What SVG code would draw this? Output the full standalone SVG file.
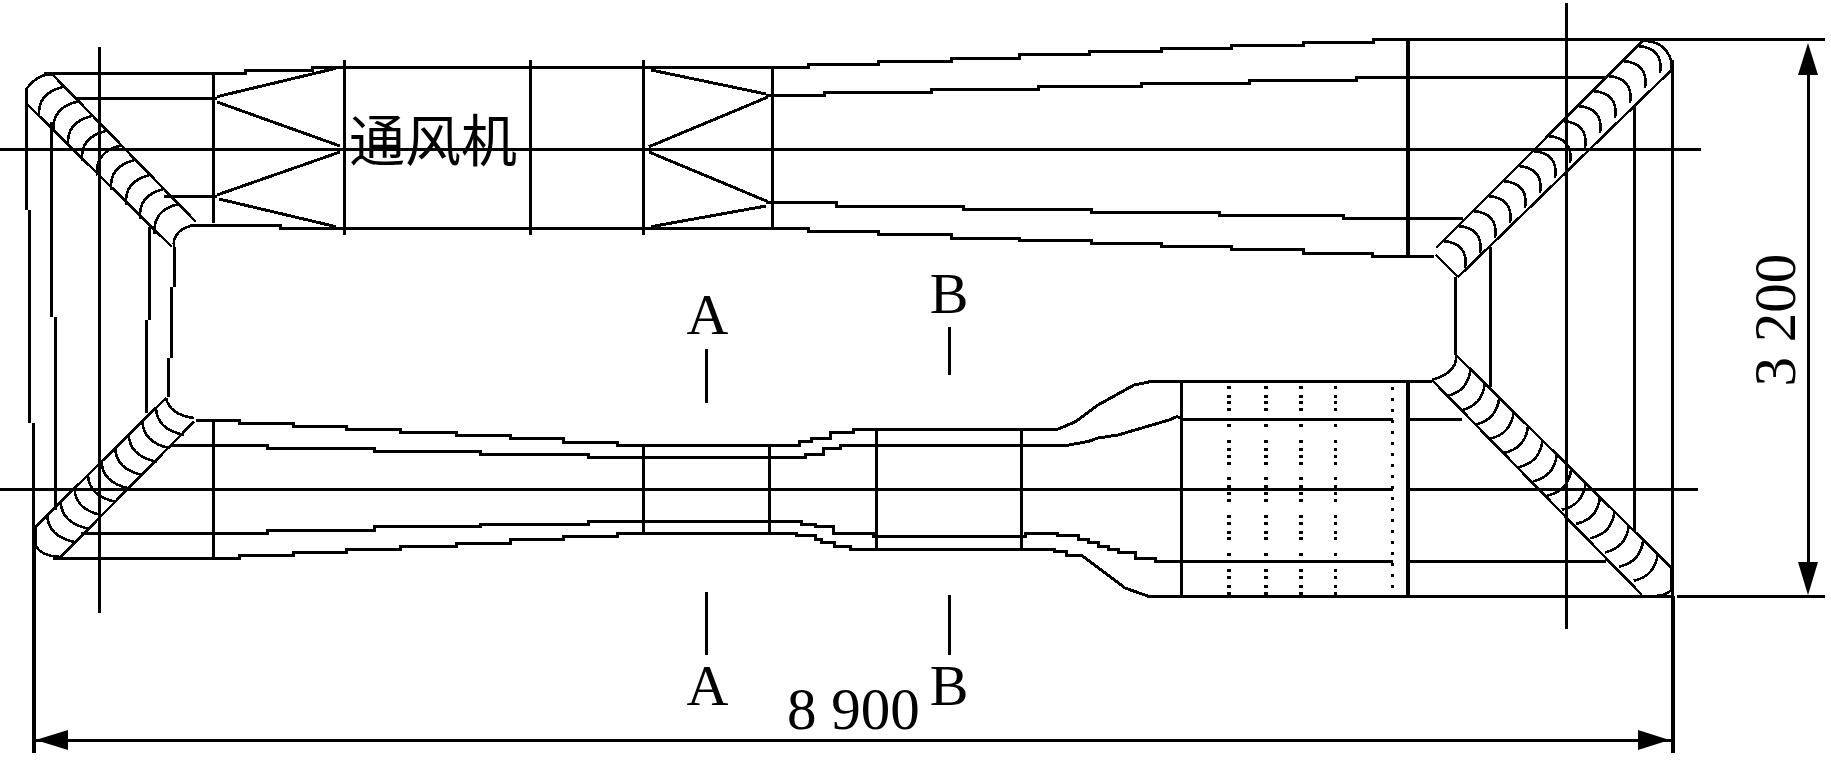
<svg xmlns="http://www.w3.org/2000/svg" width="1831" height="760" viewBox="0 0 1831 760">
<style>
.l{fill:none;stroke:#000;stroke-width:3;shape-rendering:crispEdges}
.k{stroke-width:4}
.v{fill:none;stroke:#000;stroke-width:2.6;shape-rendering:crispEdges}
.d{fill:none;stroke:#000;stroke-width:3.5;shape-rendering:crispEdges;stroke-dasharray:3,6,3,3,3,4,3,13,3,13,3,5,3,4,3,4,3,12,3,5,3,4,3,4,3,13,3,4,3,6,3,3,3,13,3,13,3,4,3,6,3,4}
.f{fill:none;stroke:#000;stroke-width:3;shape-rendering:crispEdges;stroke-dasharray:3,8}
.txt{font-family:"Liberation Serif","Times New Roman",serif;font-size:58px;fill:#000}
.cjk{font-family:"Noto Sans CJK SC",sans-serif;font-size:56px;fill:#000}
</style>
<defs>
<path id="vtl" class="v" d="M0 0q-26 6 -24 30"/>
<path id="vtr" class="v" d="M0 0q26 2 22 27"/>
<path id="vbr" class="v" d="M0 0q-2 22 -24 27"/>
<path id="vbl" class="v" d="M0 0q0 22 28 28"/>
</defs>
<rect width="1831" height="760" fill="#fff"/>
<g id="centerlines">
<path class="l" d="M0 149.5H1701M0 489.5H1393M1408 489.5H1698"/>
<path class="l" d="M99 47V613M1566 3V629"/>
</g>
<g id="top-duct">
<path class="l" d="M44 73.5H245V70.5H312V67.5H808V64.5H878V61.5H951V58.5H1019V54.5H1089V51.5H1161V48.5H1231V45.5H1303V42.5H1373V39.5H1825"/>
<path class="l" d="M75 98.5H217M766 95.5H824V92.5H931V89.5H1038V86.5H1141V83.5H1249V80.5H1356V77.5H1606"/>
<path class="l" d="M164 196.5H217M766 202.5H836V206.5H963V209.5H1091V212.5H1219V215.5H1343V218.5H1463"/>
<path class="l" d="M190 225.5H280V228.5H808V231.5H878V234.5H951V238.5H1019V240.5H1091V243.5H1161V246.5H1231V249.5H1303V253.5H1372V256.5H1434"/>
<path class="l" d="M213 73V223M344 60V235M530 60V235M643.5 60V235M772 68V228"/>
<path class="k l" d="M1408 39V256"/>
<path class="l" d="M217 96.7L336 68.3M217 102L340 146M340 152L217 195M219 199L336 226.7"/>
<path class="l" d="M651 70L766 94M649 146.7L768 97M649 152L768 201.7M651 226.7L766 206"/>
</g>
<g id="bottom-duct">
<path class="l" d="M196 420.5H239V423.5H293V426.5H346V429.5H400V432.5H456V435.5H510V438.5H563V442.5H617V445.5H799V441.5H811V438.5H830V432.5H853V429.5H1057L1076 421.5L1098 405L1134 385L1151 381.5H1432"/>
<path class="l" d="M170 445.5H267V448.5H374V451.5H480V454.5H588V457.5H805V454.5H823V448.5H840V445.5H1066L1088 441.5L1098 438L1118 435L1130 431.5L1169 420L1177 416.5L1183 419.5H1393M1408 419.5H1462"/>
<path class="l" d="M81 533.5H267V530.5H374V526.5H480V524.5H588V521.5H801V524.5H815V526.5H833V533.5H873V536.5H1025V533.5H1057V535.5H1078V539.5H1088V542.5H1098V546.5H1108V549.5H1118V552.5H1135V558.5H1155V561.5H1393M1408 561.5H1606"/>
<path class="l" d="M53 558.5H239V555.5H293V552.5H346V549.5H400V546.5H456V543.5H510V539.5H563V536.5H617V533.5H796V535.5H815V539.5H821V542.5H834V546.5H850V549.5H1054V551.5H1066V555.5H1082L1125 588L1149 596.5H1672M1677 596.5H1825"/>
<path class="l" d="M213 420V558M643.5 445V533M769 445V533M876 429V549M1021 429V549M1181.5 382V596"/>
<path class="k l" d="M1408 383V596"/>
<path class="d" d="M1229 386V596M1266 386V596M1301 386V596M1335.5 386V596"/>
<path class="f" d="M1392 387V596"/>
</g>
<g id="side-walls">
<path class="l" d="M26.5 88V210M29.5 210V423M33.5 423V530"/>
<path class="l" d="M51.5 122V317M55 317V510"/>
<path class="l" d="M149.5 227V320M146 320V413M174 247V287M171 287V358M168 358V397"/>
<path class="l" d="M1490 247V387M1455 277V355M1634.5 107V532M1672.5 60V596"/>
</g>
<g id="elbow-top-left">
<path class="v" d="M53 75L196 222M28 105L172 247M53 75Q40 72 27 88V105M190 226Q172 232 174 247"/>
<use href="#vtl" x="63" y="87"/><use href="#vtl" x="77.5" y="101.6"/><use href="#vtl" x="92" y="116"/><use href="#vtl" x="106" y="131"/><use href="#vtl" x="121" y="145.5"/><use href="#vtl" x="135" y="160"/><use href="#vtl" x="150" y="175"/><use href="#vtl" x="164" y="189"/><use href="#vtl" x="178.5" y="204"/>
</g>
<g id="elbow-top-right">
<path class="v" d="M1436 248L1642 41.7M1458 277L1671.5 70M1642 41Q1664 40 1671 60V70M1436 255L1458 277"/>
<use href="#vtr" x="1443" y="241"/><use href="#vtr" x="1458" y="226"/><use href="#vtr" x="1473" y="211"/><use href="#vtr" x="1488" y="196"/><use href="#vtr" x="1503" y="181"/><use href="#vtr" x="1518" y="166"/><use href="#vtr" x="1533" y="151"/><use href="#vtr" x="1548" y="136"/><use href="#vtr" x="1563" y="121"/><use href="#vtr" x="1578" y="106"/><use href="#vtr" x="1593" y="91"/><use href="#vtr" x="1608" y="76"/><use href="#vtr" x="1623" y="61"/><use href="#vtr" x="1638" y="46"/>
</g>
<g id="elbow-bottom-right">
<path class="v" d="M1456 355L1671.6 568M1432 380L1642 595M1456 355Q1458 372 1432 380M1671.6 568V590Q1665 596 1655 596"/>
<use href="#vbr" x="1470.4" y="369.2"/><use href="#vbr" x="1484.8" y="383.4"/><use href="#vbr" x="1499.2" y="397.6"/><use href="#vbr" x="1513.6" y="411.8"/><use href="#vbr" x="1528" y="426"/><use href="#vbr" x="1542.4" y="440.2"/><use href="#vbr" x="1556.8" y="454.4"/><use href="#vbr" x="1571.2" y="468.6"/><use href="#vbr" x="1585.6" y="482.8"/><use href="#vbr" x="1600" y="497"/><use href="#vbr" x="1614.4" y="511.2"/><use href="#vbr" x="1628.8" y="525.4"/><use href="#vbr" x="1643.2" y="539.6"/><use href="#vbr" x="1657.6" y="553.8"/>
</g>
<g id="elbow-bottom-left">
<path class="v" d="M166 398L35.6 526.7M194 421.7L61 556.7M166 398Q170 415 194 418M35.6 526.7V545Q40 556 61 557"/>
<use href="#vbl" x="156" y="407"/><use href="#vbl" x="142.4" y="420.4"/><use href="#vbl" x="128.8" y="433.8"/><use href="#vbl" x="115.2" y="447.2"/><use href="#vbl" x="101.6" y="460.6"/><use href="#vbl" x="88" y="474"/><use href="#vbl" x="74.4" y="487.4"/><use href="#vbl" x="60.8" y="500.8"/><use href="#vbl" x="47.2" y="514.2"/>
</g>
<g id="section-marks">
<path class="l" d="M706.5 349V403M706.5 592V655M949 327V375M949 595V655"/>
</g>
<g id="dimensions">
<path class="l" d="M34 740.5H1672M1808 60V580"/>
<path class="k l" d="M33.5 530V753M1672.5 596V753"/>
<path d="M35.6 740L68 730V750ZM1669.5 740L1638 730V750ZM1808 43L1798 75H1818ZM1808 595L1798 562H1818Z" fill="#000"/>
</g>
<g id="labels">
<text class="cjk" x="349" y="161">通风机</text>
<text class="txt" x="707.5" y="334" text-anchor="middle">A</text>
<text class="txt" x="949" y="313" text-anchor="middle">B</text>
<text class="txt" x="707.5" y="705" text-anchor="middle">A</text>
<text class="txt" x="949" y="705" text-anchor="middle">B</text>
<text class="txt" x="787" y="729" style="font-size:59px">8 900</text>
<text class="txt" transform="translate(1795 320) rotate(-90)" text-anchor="middle" style="font-size:59px">3 200</text>
</g>
</svg>
